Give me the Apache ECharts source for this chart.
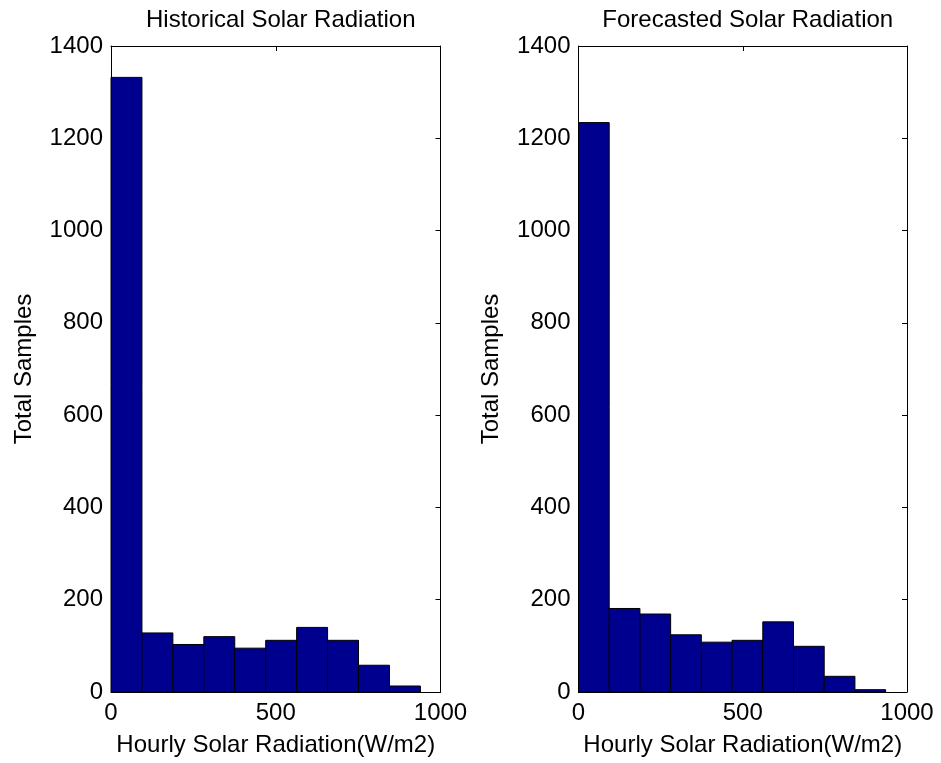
<!DOCTYPE html>
<html>
<head>
<meta charset="utf-8">
<script src="https://cdn.jsdelivr.net/npm/echarts@6/dist/echarts.min.js"></script>
<style>html,body{margin:0;padding:0;background:#fff;}#c{width:941px;height:763px;}</style>
</head>
<body>
<div id="c"></div>
<script>
// Data
var titles = ['Historical Solar Radiation', 'Forecasted Solar Radiation'];
var xAxisName = 'Hourly Solar Radiation(W/m2)';
var yAxisName = 'Total Samples';
var histEdges = [0, 93.9, 187.8, 281.7, 375.6, 469.5, 563.4, 657.3, 751.2, 845.1, 939];
var histCounts = [1332, 128, 103, 120, 95, 112, 140, 112, 58, 13];
var foreEdges = [0, 93.5, 187, 280.5, 374, 467.5, 561, 654.5, 748, 841.5, 935];
var foreCounts = [1234, 181, 169, 124, 108, 112, 152, 99, 34, 5];
var xTicks = [0, 500, 1000];
var yTicks = [0, 200, 400, 600, 800, 1000, 1200, 1400];

function toBins(edges, counts) {
  var out = [];
  for (var i = 0; i < counts.length; i++) out.push([edges[i], edges[i + 1], counts[i]]);
  return out;
}

var FONT = 'Liberation Sans, Arial, sans-serif';
var FS = 24;
var grids = [
  {left: 111, top: 46, width: 329.5, height: 646},
  {left: 578.5, top: 46, width: 328.5, height: 646}
];
function plain(v) { return String(v); }

var xAxes = [], yAxes = [], series = [], titleArr = [];
grids.forEach(function (g, i) {
  xAxes.push({
    type: 'value', gridIndex: i, position: 'bottom', min: xTicks[0], max: xTicks[xTicks.length - 1], interval: 500,
    name: xAxisName, nameLocation: 'middle', nameGap: 41,
    nameTextStyle: {color: '#000', fontFamily: FONT, fontSize: FS},
    axisLine: {show: true, onZero: false, lineStyle: {color: '#000', width: 1}},
    axisTick: {show: true, inside: true, length: 5, lineStyle: {color: '#000'}},
    axisLabel: {color: '#000', fontFamily: FONT, fontSize: FS, margin: 9, formatter: plain},
    splitLine: {show: false}
  });
  xAxes.push({
    type: 'value', gridIndex: i, position: 'top', min: xTicks[0], max: xTicks[xTicks.length - 1], interval: 500,
    axisLine: {show: true, onZero: false, lineStyle: {color: '#000', width: 1}},
    axisTick: {show: true, inside: true, length: 5, lineStyle: {color: '#000'}},
    axisLabel: {show: false}, splitLine: {show: false}
  });
  yAxes.push({
    type: 'value', gridIndex: i, position: 'left', min: yTicks[0], max: yTicks[yTicks.length - 1], interval: 200,
    name: yAxisName, nameLocation: 'middle', nameGap: 75, nameRotate: 90,
    nameTextStyle: {color: '#000', fontFamily: FONT, fontSize: FS},
    axisLine: {show: true, onZero: false, lineStyle: {color: '#000', width: 1}},
    axisTick: {show: true, inside: true, length: 5, lineStyle: {color: '#000'}},
    axisLabel: {color: '#000', fontFamily: FONT, fontSize: FS, margin: 8, formatter: plain},
    splitLine: {show: false}
  });
  yAxes.push({
    type: 'value', gridIndex: i, position: 'right', min: yTicks[0], max: yTicks[yTicks.length - 1], interval: 200,
    axisLine: {show: true, onZero: false, lineStyle: {color: '#000', width: 1}},
    axisTick: {show: true, inside: true, length: 5, lineStyle: {color: '#000'}},
    axisLabel: {show: false}, splitLine: {show: false}
  });
  titleArr.push({
    text: titles[i], left: g.left + g.width / 2, top: 3, textAlign: 'center',
    textStyle: {color: '#000', fontFamily: FONT, fontSize: FS, fontWeight: 'normal'}
  });
});

var binsList = [toBins(histEdges, histCounts), toBins(foreEdges, foreCounts)];
binsList.forEach(function (bins, i) {
  series.push({
    type: 'custom', xAxisIndex: i * 2, yAxisIndex: i * 2,
    encode: {x: [0, 1], y: 2},
    data: bins,
    renderItem: function (params, api) {
      var p0 = api.coord([api.value(0), api.value(2)]);
      var p1 = api.coord([api.value(1), 0]);
      return {
        type: 'rect',
        shape: {x: p0[0], y: p0[1], width: p1[0] - p0[0], height: p1[1] - p0[1]},
        style: {fill: '#00008f', stroke: '#000', lineWidth: 1}
      };
    }
  });
});

var chart = echarts.init(document.getElementById('c'), null, {renderer: 'canvas'});
chart.setOption({
  animation: false,
  backgroundColor: '#fff',
  title: titleArr,
  grid: grids,
  xAxis: xAxes,
  yAxis: yAxes,
  series: series
});
</script>
</body>
</html>
